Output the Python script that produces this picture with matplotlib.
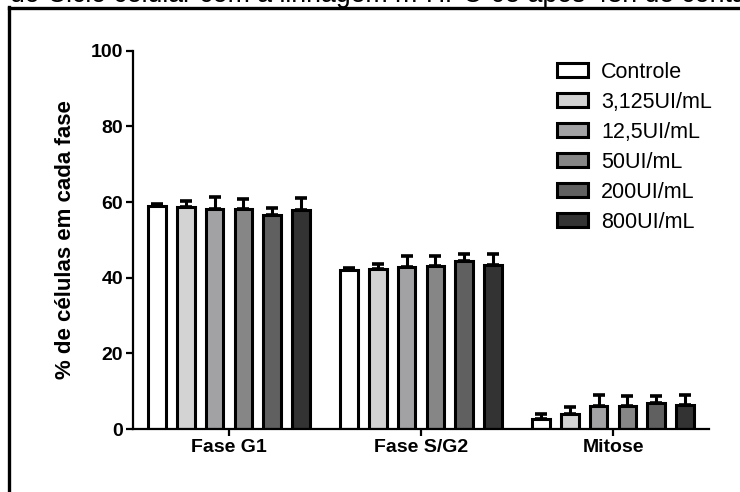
import numpy as np
import matplotlib
matplotlib.use('Agg')
import matplotlib.pyplot as plt
from matplotlib.lines import Line2D

plt.rcParams['font.family'] = ['Liberation Sans', 'DejaVu Sans']

# data
phases = ['Fase G1', 'Fase S/G2', 'Mitose']
doses = ['Controle', '3,125UI/mL', '12,5UI/mL', '50UI/mL', '200UI/mL', '800UI/mL']
means = [
    [59.0, 42.0, 2.6],   # Controle
    [58.8, 42.3, 4.0],   # 3,125
    [58.2, 42.8, 6.0],   # 12,5
    [58.2, 43.1, 6.0],   # 50
    [56.5, 44.4, 7.0],   # 200
    [57.8, 43.4, 6.3],   # 800
]
errs = [
    [0.5, 0.5, 1.3],
    [1.5, 1.3, 1.9],
    [3.2, 3.0, 3.0],
    [2.5, 2.7, 2.6],
    [2.0, 1.8, 1.7],
    [3.2, 2.8, 2.7],
]
colors = ['#ffffff', '#d3d3d3', '#a2a2a5', '#868686', '#606060', '#333333']

fig = plt.figure(figsize=(7.4, 4.92), dpi=100)
ax = fig.add_axes([133/740, 63/492, 576/740, 378.3/492])

x = np.arange(len(phases))
pitch = 0.1495
width = 0.092
for i, (m, e, c, lab) in enumerate(zip(means, errs, colors, doses)):
    pos = x + (i - 2.5) * pitch
    ax.errorbar(pos, m, yerr=[np.zeros(len(e)), e], fmt='none', ecolor='black',
                elinewidth=2.2, capsize=4.5, capthick=2.6, zorder=1)
    ax.bar(pos, m, width=width, color=c, edgecolor='black', linewidth=2.2,
           label=lab, zorder=2)

ax.set_xlim(-0.5, 2.5)
ax.set_ylim(0, 100)
ax.set_yticks([0, 20, 40, 60, 80, 100])
ax.set_xticks(x)
ax.set_xticklabels(phases, fontsize=14, fontweight='bold')
for t in ax.get_yticklabels():
    t.set_fontsize(14)
    t.set_fontweight('bold')
ax.set_ylabel('% de células em cada fase', fontsize=16, fontweight='bold', labelpad=11)

for s in ['top', 'right']:
    ax.spines[s].set_visible(False)
for s in ['left', 'bottom']:
    ax.spines[s].set_linewidth(1.6)
ax.tick_params(axis='both', width=1.6, length=5, direction='out', pad=2)

leg = ax.legend(loc='upper left', bbox_to_anchor=(0.736, 0.971), frameon=False,
                fontsize=15.5, borderaxespad=0, borderpad=0, handlelength=1.45,
                handleheight=0.6, handletextpad=0.6, labelspacing=0.42)

# page frame and clipped caption from the source document
fig.add_artist(Line2D([9/740, 9/740], [0, 1 - 7/492], color='black', lw=2.4,
                      transform=fig.transFigure))
fig.add_artist(Line2D([9/740, 1], [1 - 7.5/492, 1 - 7.5/492], color='black', lw=2.4,
                      transform=fig.transFigure))
fig.text(10/740, 1 - 2.5/492, 'do Ciclo celular com a linhagem m-HPC-05 após 48h de contato',
         fontsize=19.2, va='baseline', ha='left')

fig.savefig('out.png', dpi=100)
